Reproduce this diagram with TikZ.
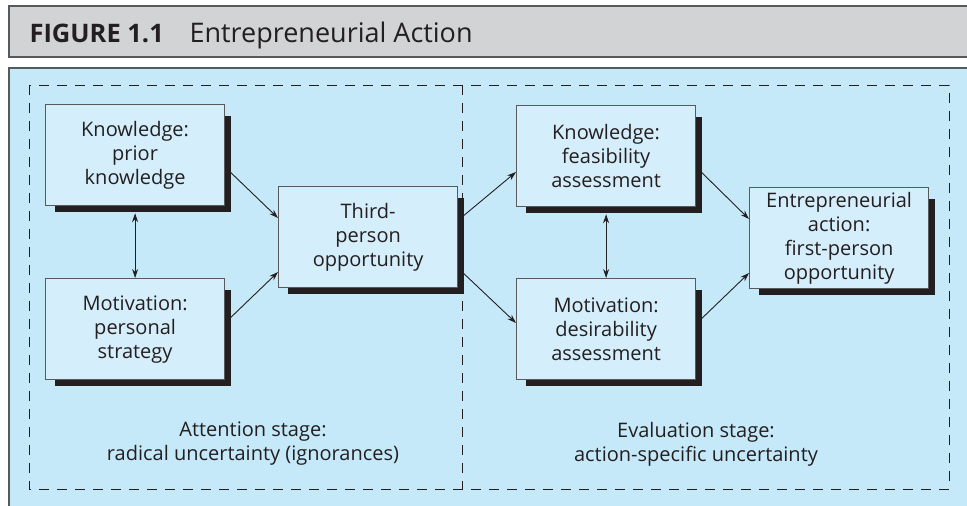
\documentclass[tikz,border=0pt]{standalone}
\usepackage{fontspec}
\setmainfont{Open Sans}
\usepackage{tikz}
\usetikzlibrary{calc, arrows.meta, positioning, backgrounds}
\definecolor{panelBlue}{HTML}{C6E9F9}
\definecolor{boxBlue}{HTML}{D5EEFB}
\definecolor{titleGray}{HTML}{D1D3D4}
\definecolor{edgeGray}{HTML}{58595B}
\definecolor{inkBlack}{HTML}{231F20}

\begin{document}
\begin{tikzpicture}[x=1pt, y=-1pt, >={Stealth[length=9pt, width=6pt]},
    stagebox/.style={draw=edgeGray, line width=1.2pt, fill=boxBlue, text=inkBlack,
        minimum width=179pt, minimum height=101pt, inner sep=0pt, align=center,
        anchor=north west, font=\fontsize{20}{24}\selectfont},
    stagetext/.style={text=inkBlack, align=center, font=\fontsize{20}{24}\selectfont},
    link/.style={->, line width=0.9pt, inkBlack}]
    \useasboundingbox (0,0) rectangle (967,506);

    % boxes
    \node[stagebox] (priorKnow) at (45,104) {Knowledge:\\prior\\knowledge};
    \node[stagebox] (persStrat) at (45,278) {Motivation:\\personal\\strategy};
    \node[stagebox] (thirdPerson) at (278,186) {Third-\\person\\opportunity};
    \node[stagebox] (feasKnow) at (516,105) {Knowledge:\\feasibility\\assessment};
    \node[stagebox] (desirMotiv) at (516,278) {Motivation:\\desirability\\assessment};
    \node[stagebox] (entAction) at (749,187) {Entrepreneurial\\action:\\first-person\\opportunity};

    \begin{scope}[on background layer]
        \draw[edgeGray, line width=1.2pt, fill=titleGray] (9,6) rectangle (980,57);
        \draw[edgeGray, line width=1.2pt, fill=panelBlue] (9,68) rectangle (980,520);
        \draw[dashed, dash pattern=on 10pt off 8pt, line width=1pt, inkBlack]
            (29,85) rectangle (949,489) (462,85) -- (462,489);
        \foreach \b in {priorKnow, persStrat, thirdPerson, feasKnow, desirMotiv, entAction}
            \fill[inkBlack] ($(\b.north east)+(5.5,12)$) rectangle ($(\b.south west)+(10,5.5)$);
    \end{scope}

    % title
    \node[anchor=base west, inkBlack, font=\fontsize{25.5}{30}\selectfont\bfseries] (figNum) at (26,42) {FIGURE 1.1};
    \node[anchor=base west, inkBlack, font=\fontsize{27}{30}\selectfont] (figTitle) at (186,42) {Entrepreneurial Action};

    % stage labels
    \node[stagetext] (attStage) at (253,444) {Attention stage:\\radical uncertainty (ignorances)};
    \node[stagetext] (evalStage) at (696,444) {Evaluation stage:\\action-specific uncertainty};

    % connectors
    \draw[link] ($(priorKnow.north east)+(5,68)$) -- ($(thirdPerson.north west)+(0,32)$);
    \draw[link] ($(persStrat.north east)+(5,40)$) -- ($(thirdPerson.north west)+(0,86)$);
    \draw[link] ($(thirdPerson.north east)+(5,30)$) -- ($(feasKnow.north west)+(0,67)$);
    \draw[link] ($(thirdPerson.north east)+(5,87)$) -- ($(desirMotiv.north west)+(0,45)$);
    \draw[link] ($(feasKnow.north east)+(5,67)$) -- ($(entAction.north west)+(0,32)$);
    \draw[link] ($(desirMotiv.north east)+(5,41)$) -- ($(entAction.north west)+(0,86)$);
    \draw[link, <->] ($(priorKnow.south)+(0,7)$) -- (persStrat.north);
    \draw[link, <->] ($(feasKnow.south)+(0,7)$) -- (desirMotiv.north);
\end{tikzpicture}
\end{document}
